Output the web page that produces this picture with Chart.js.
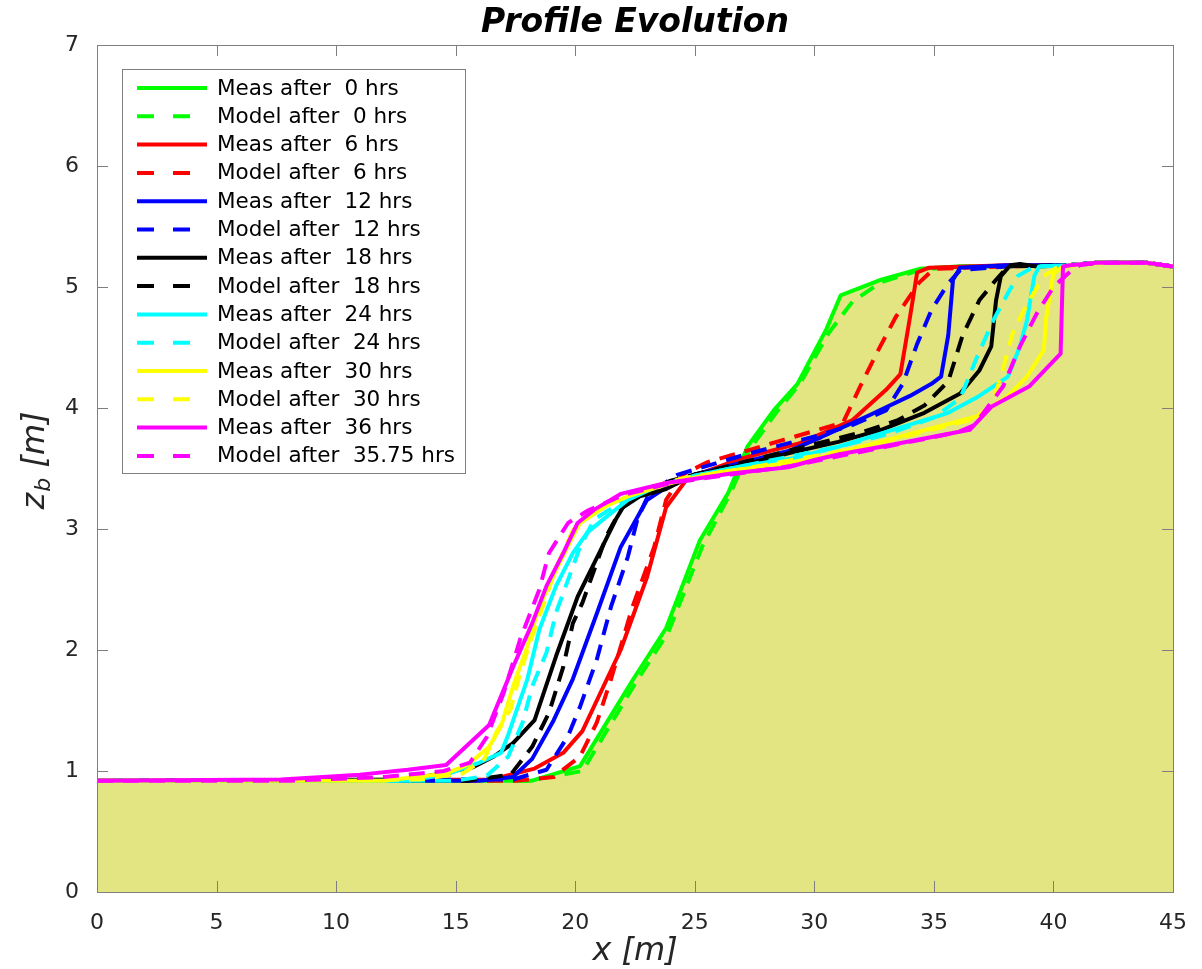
<!DOCTYPE html>
<html>
<head>
<meta charset="utf-8">
<script src="https://cdn.jsdelivr.net/npm/chart.js@4.4.0/dist/chart.umd.min.js"></script>
<style>
  html, body { margin: 0; padding: 0; background: #fff; }
</style>
</head>
<body>
<canvas id="myChart" width="1202" height="969"></canvas>
<script>
// profiles, [x (m), zb (m)]
var meas0 = [[0,0.92],[18.2,0.92],[20.2,1.04],[22.4,1.75],[23.8,2.18],[25.2,2.9],[26.4,3.3],[27.2,3.68],[28.3,3.98],[29.3,4.2],[30.5,4.65],[31.1,4.93],[32.8,5.06],[34.4,5.15],[36,5.17],[40.6,5.18],[41.8,5.2],[43.9,5.2],[45,5.17]];
var model0 = [[0,0.92],[18,0.92],[20.3,1.0],[22.5,1.72],[23.9,2.15],[25.3,2.85],[26.5,3.3],[27.3,3.66],[28.4,3.96],[29.4,4.2],[30.6,4.62],[31.6,4.88],[32.8,5.04],[34.4,5.14],[36,5.17],[40.6,5.18],[41.8,5.2],[43.9,5.2],[45,5.17]];
var meas6 = [[0,0.92],[16.5,0.93],[18.3,1.02],[19.5,1.15],[20.3,1.33],[21.9,2.0],[23.0,2.6],[23.8,3.18],[24.7,3.42],[26.9,3.58],[29.4,3.71],[31.6,3.9],[33.0,4.15],[33.6,4.28],[34.0,4.75],[34.3,5.12],[34.8,5.16],[38,5.18],[40.6,5.18],[41.8,5.2],[43.9,5.2],[45,5.17]];
var model6 = [[0,0.92],[17.5,0.92],[19.1,0.95],[20.2,1.12],[20.9,1.4],[21.5,1.76],[22.4,2.36],[23.3,2.85],[23.8,3.24],[24.5,3.45],[25.5,3.55],[28.6,3.73],[31.2,3.88],[31.9,4.17],[32.6,4.45],[33.4,4.75],[34.4,5.04],[35,5.15],[38,5.17],[40.6,5.18],[41.8,5.2],[43.9,5.2],[45,5.17]];
var meas12 = [[0,0.92],[16,0.92],[17.4,0.95],[18.2,1.1],[19.1,1.42],[19.9,1.76],[20.9,2.3],[21.9,2.85],[23,3.24],[23.7,3.33],[25,3.45],[27,3.55],[29,3.65],[30.3,3.76],[32.3,3.94],[34.0,4.1],[34.9,4.2],[35.3,4.26],[35.6,4.6],[35.8,5.06],[36.1,5.16],[38,5.18],[40.6,5.18],[41.8,5.2],[43.9,5.2],[45,5.17]];
var model12 = [[0,0.92],[17.4,0.93],[18.8,1.01],[19.7,1.29],[20.2,1.53],[20.9,1.92],[21.5,2.36],[22.2,2.77],[22.6,3.08],[23.1,3.3],[24.3,3.45],[27.2,3.62],[30.1,3.77],[31.6,3.86],[33,3.98],[33.7,4.2],[34.3,4.53],[34.9,4.81],[35.6,5.03],[36.1,5.14],[38,5.17],[40.6,5.18],[41.8,5.2],[43.9,5.2],[45,5.17]];
var meas18 = [[0,0.92],[13,0.93],[14.4,0.98],[15.7,1.03],[16.6,1.12],[17.4,1.23],[18.3,1.42],[19.2,1.95],[20.1,2.44],[20.8,2.72],[21.7,3.08],[22.0,3.18],[22.7,3.27],[23.8,3.33],[25,3.45],[27,3.53],[29,3.63],[31,3.72],[32.8,3.82],[34.6,3.96],[36.1,4.12],[36.9,4.31],[37.4,4.51],[37.6,4.89],[37.8,5.09],[38.2,5.18],[38.6,5.19],[39.3,5.17],[40.6,5.18],[41.8,5.2],[43.9,5.2],[45,5.17]];
var model18 = [[0,0.92],[15.5,0.92],[17.3,0.97],[18.2,1.2],[18.9,1.48],[19.5,1.86],[19.9,2.22],[20.3,2.39],[20.9,2.72],[21.3,2.94],[21.9,3.16],[22.5,3.27],[24,3.4],[26,3.5],[28,3.6],[30,3.7],[32,3.8],[33.5,3.9],[34.6,4.02],[35.6,4.22],[36.2,4.6],[36.9,4.89],[37.6,5.06],[38.1,5.17],[40.6,5.18],[41.8,5.2],[43.9,5.2],[45,5.17]];
var meas24 = [[0,0.92],[13,0.92],[14.6,0.97],[16,1.07],[16.9,1.15],[17.2,1.3],[18,1.76],[18.5,2.17],[19.2,2.53],[19.9,2.8],[20.5,2.97],[21.3,3.1],[22.2,3.24],[23.4,3.35],[25,3.44],[27,3.52],[29,3.58],[31,3.68],[32.8,3.79],[35.6,3.96],[36.9,4.1],[38.1,4.26],[38.6,4.51],[38.9,4.73],[39.2,5.09],[39.4,5.17],[40.6,5.18],[41.8,5.2],[43.9,5.2],[45,5.17]];
var model24 = [[0,0.92],[15,0.92],[16.3,0.96],[17.2,1.12],[17.8,1.4],[18.2,1.7],[18.8,1.98],[19.2,2.31],[19.7,2.58],[20.2,2.85],[20.8,3.08],[22.3,3.27],[23.4,3.35],[25,3.44],[27,3.52],[29,3.6],[31,3.68],[33,3.78],[35,3.92],[36.1,4.08],[36.8,4.42],[37.5,4.73],[38.1,4.95],[38.5,5.09],[39.2,5.17],[40.6,5.18],[41.8,5.2],[43.9,5.2],[45,5.17]];
var meas30 = [[0,0.92],[12,0.92],[14.6,0.98],[15.5,1.05],[16.4,1.2],[16.9,1.37],[17.4,1.7],[18,2.03],[18.5,2.36],[19.2,2.66],[19.9,2.94],[20.2,3.05],[21.3,3.19],[22.2,3.27],[24,3.38],[26,3.47],[28,3.52],[30,3.58],[32,3.68],[34.1,3.79],[36.8,3.93],[38.1,4.1],[38.9,4.26],[39.6,4.48],[39.7,4.75],[40,5.11],[40.4,5.17],[41.8,5.2],[43.9,5.2],[45,5.17]];
var model30 = [[0,0.92],[13.5,0.93],[15.3,0.98],[16.2,1.1],[16.7,1.32],[17.3,1.51],[17.7,1.81],[18.2,2.11],[18.7,2.39],[19.2,2.68],[19.9,2.99],[20.5,3.1],[21.6,3.24],[22.7,3.32],[24.5,3.42],[26.5,3.48],[28.5,3.55],[30.5,3.62],[32.5,3.7],[34.5,3.8],[36.5,3.9],[37.4,4.01],[37.8,4.26],[38.3,4.62],[38.9,4.86],[39.6,5.09],[40.2,5.17],[41.8,5.2],[43.9,5.2],[45,5.17]];
var meas36 = [[0,0.92],[7.7,0.93],[11,0.97],[13,1.01],[14.6,1.05],[16.4,1.38],[17.4,1.86],[18.2,2.22],[18.8,2.53],[19.5,2.8],[20.1,3.05],[20.8,3.16],[21.9,3.29],[23.8,3.38],[26.6,3.46],[28.9,3.51],[30,3.57],[31.1,3.62],[32.8,3.68],[36.5,3.82],[37.4,4.01],[39,4.18],[40.3,4.45],[40.4,5.17],[40.7,5.18],[41.8,5.2],[43.9,5.2],[45,5.17]];
var model36 = [[0,0.92],[8,0.92],[12,0.95],[14.5,1.0],[15.6,1.07],[16.3,1.28],[17,1.64],[17.7,2.09],[18.5,2.5],[18.9,2.8],[19.7,3.05],[20.5,3.15],[22,3.28],[24,3.38],[26.5,3.45],[29,3.52],[31.5,3.62],[34,3.72],[36,3.8],[36.7,3.86],[37.9,4.18],[38.6,4.51],[39.3,4.78],[40,5.0],[40.6,5.11],[41.1,5.18],[41.8,5.2],[43.9,5.2],[45,5.17]];

var seriesData = [meas0, model0, meas6, model6, meas12, model12, meas18, model18, meas24, model24, meas30, model30, meas36, model36];
var seriesLabels = ["Meas after  0 hrs", "Model after  0 hrs", "Meas after  6 hrs", "Model after  6 hrs",
  "Meas after  12 hrs", "Model after  12 hrs", "Meas after  18 hrs", "Model after  18 hrs",
  "Meas after  24 hrs", "Model after  24 hrs", "Meas after  30 hrs", "Model after  30 hrs",
  "Meas after  36 hrs", "Model after  35.75 hrs"];
var seriesColors = ["#00ff00", "#00ff00", "#ff0000", "#ff0000", "#0000ff", "#0000ff", "#000000", "#000000",
  "#00ffff", "#00ffff", "#ffff00", "#ffff00", "#ff00ff", "#ff00ff"];
var xTicks = [0, 5, 10, 15, 20, 25, 30, 35, 40, 45];
var yTicks = [0, 1, 2, 3, 4, 5, 6, 7];

var FONT = "'DejaVu Sans', sans-serif";

function toPts(arr) {
  return arr.map(function(p) { return {x: p[0], y: p[1]}; });
}

var datasets = [];
// bed fill under the initial profile
datasets.push({
  label: "bed",
  data: toPts(meas0),
  fill: "origin",
  backgroundColor: "rgb(227,229,131)",
  borderWidth: 0,
  borderColor: "rgba(0,0,0,0)",
  pointRadius: 0,
  order: 100
});
for (var i = 0; i < seriesData.length; i++) {
  datasets.push({
    label: seriesLabels[i],
    data: toPts(seriesData[i]),
    borderColor: seriesColors[i],
    borderWidth: 4,
    borderDash: (i % 2 == 1) ? [16, 10] : [],
    borderCapStyle: "butt",
    borderJoinStyle: "round",
    fill: false,
    pointRadius: 0,
    tension: 0,
    order: 50 - i
  });
}

// frame, inward ticks, title, axis titles, legend box
var decorations = {
  id: "decorations",
  afterDatasetsDraw: function(chart) {
    var ctx = chart.ctx;
    var a = chart.chartArea;
    var sx = chart.scales.x, sy = chart.scales.y;
    ctx.save();
    ctx.strokeStyle = "#7f7f7f";
    ctx.lineWidth = 1;
    ctx.beginPath();
    xTicks.forEach(function(v) {
      var px = Math.round(sx.getPixelForValue(v)) + 0.5;
      ctx.moveTo(px, a.bottom); ctx.lineTo(px, a.bottom - 11);
      ctx.moveTo(px, a.top); ctx.lineTo(px, a.top + 11);
    });
    yTicks.forEach(function(v) {
      var py = Math.round(sy.getPixelForValue(v)) + 0.5;
      ctx.moveTo(a.left, py); ctx.lineTo(a.left + 11, py);
      ctx.moveTo(a.right, py); ctx.lineTo(a.right - 11, py);
    });
    ctx.stroke();
    ctx.strokeRect(Math.round(a.left) + 0.5, Math.round(a.top) + 0.5, Math.round(a.right - a.left), Math.round(a.bottom - a.top));

    // title
    ctx.fillStyle = "#000";
    ctx.font = "italic bold 33px " + FONT;
    ctx.textAlign = "center";
    ctx.textBaseline = "middle";
    ctx.fillText("Profile Evolution", (a.left + a.right) / 2, 23);

    // x title
    ctx.fillStyle = "#262626";
    ctx.font = "italic 32px " + FONT;
    ctx.fillText("x [m]", (a.left + a.right) / 2, 952);

    // y title with subscript
    ctx.save();
    ctx.translate(36, 461);
    ctx.rotate(-Math.PI / 2);
    ctx.textAlign = "left";
    ctx.font = "italic 32px " + FONT;
    var w1 = ctx.measureText("z").width;
    ctx.font = "italic 22px " + FONT;
    var w2 = ctx.measureText("b").width;
    ctx.font = "italic 32px " + FONT;
    var w3 = ctx.measureText(" [m]").width;
    var x0 = -(w1 + w2 + w3) / 2;
    ctx.fillText("z", x0, 0);
    ctx.font = "italic 22px " + FONT;
    ctx.fillText("b", x0 + w1 + 1, 8);
    ctx.font = "italic 32px " + FONT;
    ctx.fillText(" [m]", x0 + w1 + w2 + 1, 0);
    ctx.restore();

    // legend
    var lx = 122, ly = 69, lw = 343, lh = 404;
    ctx.fillStyle = "#fff";
    ctx.fillRect(lx, ly, lw, lh);
    ctx.strokeStyle = "#7f7f7f";
    ctx.strokeRect(lx + 0.5, ly + 0.5, lw, lh);
    ctx.font = "21.5px " + FONT;
    ctx.textAlign = "left";
    ctx.textBaseline = "middle";
    for (var k = 0; k < seriesLabels.length; k++) {
      var yy = 88 + k * 28.3;
      ctx.strokeStyle = seriesColors[k];
      ctx.lineWidth = 4;
      ctx.lineCap = "butt";
      ctx.setLineDash(k % 2 == 1 ? [17, 19] : []);
      ctx.beginPath();
      ctx.moveTo(137, yy);
      ctx.lineTo(207, yy);
      ctx.stroke();
      ctx.setLineDash([]);
      ctx.fillStyle = "#000";
      ctx.fillText(seriesLabels[k], 217, yy + 1);
    }
    ctx.restore();
  }
};

var ctx = document.getElementById("myChart");

var myChart = new Chart(ctx, {
  type: "line",
  data: { datasets: datasets },
  options: {
    responsive: false,
    animation: false,
    devicePixelRatio: 1,
    layout: { padding: { top: 45, right: 29, left: 0, bottom: 0 } },
    plugins: {
      legend: { display: false },
      tooltip: { enabled: false },
      title: { display: false }
    },
    scales: {
      x: {
        type: "linear",
        min: 0, max: 45,
        afterFit: function(scale) { scale.height = 77; },
        afterBuildTicks: function(scale) { scale.ticks = xTicks.map(function(v) { return {value: v}; }); },
        grid: { display: false },
        border: { display: false },
        ticks: { color: "#262626", font: { family: FONT, size: 22 }, padding: 10, maxRotation: 0, autoSkip: false }
      },
      y: {
        type: "linear",
        min: 0, max: 7,
        afterFit: function(scale) { scale.width = 97; },
        afterBuildTicks: function(scale) { scale.ticks = yTicks.map(function(v) { return {value: v}; }); },
        grid: { display: false },
        border: { display: false },
        ticks: { color: "#262626", font: { family: FONT, size: 22 }, padding: 10 }
      }
    }
  },
  plugins: [decorations]
});
</script>
</body>
</html>
